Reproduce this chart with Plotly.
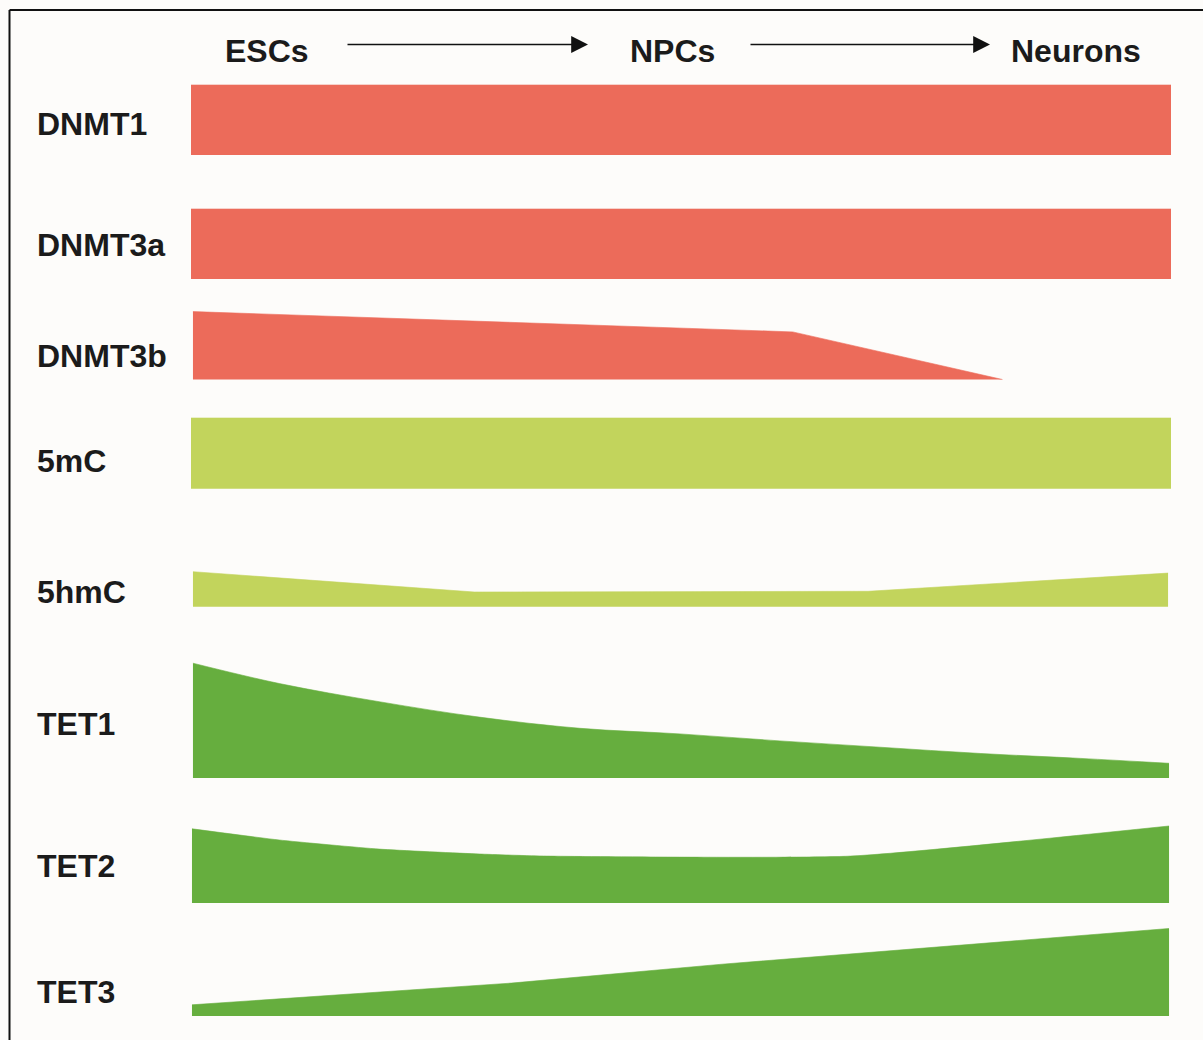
import plotly.graph_objects as go

# ---------------- data ----------------
STAGES = ["ESCs", "NPCs", "Neurons"]
ROWS = ["DNMT1", "DNMT3a", "DNMT3b", "5mC", "5hmC", "TET1", "TET2", "TET3"]

# x = position along differentiation (0 = ESCs ... 100 = Neurons)
# level = relative amount (1.0 = full band)
DNMT1_X = [0, 100]
DNMT1_LEVEL = [1.0, 1.0]

DNMT3A_X = [0, 100]
DNMT3A_LEVEL = [1.0, 1.0]

DNMT3B_X = [0.2, 61.4, 82.8]
DNMT3B_LEVEL = [0.97, 0.68, 0.0]

MC5_X = [0, 100]
MC5_LEVEL = [1.01, 1.01]

HMC5_X = [0.2, 28.9, 69.1, 99.7]
HMC5_LEVEL = [0.50, 0.21, 0.22, 0.48]

TET1_X = [0.2, 9.0, 19.2, 29.4, 39.7, 49.9, 60.1, 70.3, 80.6, 90.8, 99.8]
TET1_LEVEL = [1.64, 1.35, 1.09, 0.87, 0.71, 0.63, 0.53, 0.44, 0.35, 0.28, 0.21]

TET2_X = [0.1, 9.0, 19.2, 29.4, 36.3, 67.3, 99.8]
TET2_LEVEL = [1.06, 0.90, 0.77, 0.70, 0.67, 0.67, 1.10]

TET3_X = [0.1, 32.7, 54.2, 99.8]
TET3_LEVEL = [0.16, 0.47, 0.74, 1.25]

SERIES_X = [DNMT1_X, DNMT3A_X, DNMT3B_X, MC5_X, HMC5_X, TET1_X, TET2_X, TET3_X]
SERIES_LEVEL = [DNMT1_LEVEL, DNMT3A_LEVEL, DNMT3B_LEVEL, MC5_LEVEL,
                HMC5_LEVEL, TET1_LEVEL, TET2_LEVEL, TET3_LEVEL]

# ---------------- layout / style ----------------
W, H = 1203, 1040
X0_PX, PX_PER_UNIT = 191.0, 9.8          # where timeline 0 sits, pixels per unit
BAND_PX = 70.0                           # pixel height of level 1.0
ROW_BASE = [155, 279, 379.5, 488.7, 606.7, 778, 903, 1016]   # baseline of each band (px from top)
LABEL_Y = [124, 245, 356, 461, 592, 724, 866, 992]           # label centres (px from top)
ROW_SHAPE = ["linear", "linear", "linear", "linear", "linear", "spline", "spline", "linear"]
ROW_SMOOTH = [0, 0, 0, 0, 0, 1.0, 0.5, 0]

RED = "#EC6B5A"
LIGHT_GREEN = "#C2D45C"
GREEN = "#66AE3E"
ROW_COLORS = [RED, RED, RED, LIGHT_GREEN, LIGHT_GREEN, GREEN, GREEN, GREEN]
TEXT = "#1b1b1b"
BG = "#fdfcfa"
FONT = "Liberation Sans, Arial, sans-serif"
FSIZE = 32


def px2x(p):
    return (p - X0_PX) / PX_PER_UNIT


def px2paper_x(p):
    return p / W


def px2paper_y(p):
    return 1 - p / H


fig = go.Figure()

for name, xs, lv, base, col, shp, sm in zip(ROWS, SERIES_X, SERIES_LEVEL, ROW_BASE,
                                            ROW_COLORS, ROW_SHAPE, ROW_SMOOTH):
    tops = [base - v * BAND_PX for v in lv]
    # baseline
    fig.add_trace(go.Scatter(
        x=[xs[0], xs[-1]], y=[base, base], mode="lines",
        line=dict(width=0, color=col), showlegend=False, hoverinfo="skip",
    ))
    line_kw = dict(width=0.6, color=col, shape=shp)
    if shp == "spline":
        line_kw["smoothing"] = sm
    fig.add_trace(go.Scatter(
        x=list(xs), y=tops, mode="lines", fill="tonexty",
        fillcolor=col, line=line_kw,
        name=name, showlegend=False, hoverinfo="name",
    ))

annotations = []
for name, ly in zip(ROWS, LABEL_Y):
    annotations.append(dict(
        x=px2paper_x(34.5), y=px2paper_y(ly), xref="paper", yref="paper",
        xanchor="left", yanchor="middle", showarrow=False,
        text="<b>%s</b>" % name, font=dict(family=FONT, size=FSIZE, color=TEXT),
    ))

STAGE_CX = [266.5, 672.5, 1075.5]
for s, cx in zip(STAGES, STAGE_CX):
    annotations.append(dict(
        x=px2paper_x(cx), y=px2paper_y(50.5), xref="paper", yref="paper",
        xanchor="center", yanchor="middle", showarrow=False,
        text="<b>%s</b>" % s, font=dict(family=FONT, size=FSIZE, color=TEXT),
    ))

# arrows between stages
for tail, head in [(346, 588), (749, 990)]:
    annotations.append(dict(
        x=px2x(head), y=44.5, xref="x", yref="y",
        ax=px2x(tail), ay=44.5, axref="x", ayref="y",
        showarrow=True, arrowhead=2, arrowsize=2.4, arrowwidth=1.4,
        arrowcolor="#111111", text="",
    ))

shapes = [
    # frame (top and left edges)
    dict(type="line", xref="paper", yref="paper",
         x0=px2paper_x(9.5), x1=1.01, y0=px2paper_y(10), y1=px2paper_y(10),
         line=dict(color="#111111", width=2)),
    dict(type="line", xref="paper", yref="paper",
         x0=px2paper_x(9.5), x1=px2paper_x(9.5), y0=px2paper_y(10), y1=-0.01,
         line=dict(color="#111111", width=2)),
]

fig.update_layout(
    width=W, height=H, autosize=False,
    margin=dict(l=0, r=0, t=0, b=0, pad=0),
    paper_bgcolor=BG, plot_bgcolor=BG,
    xaxis=dict(range=[-X0_PX / PX_PER_UNIT, (W - X0_PX) / PX_PER_UNIT],
               visible=False, fixedrange=True),
    yaxis=dict(range=[H, 0], visible=False, fixedrange=True),
    annotations=annotations, shapes=shapes,
    showlegend=False,
)

fig.write_html(
    "out.html",
    config={"displayModeBar": False, "staticPlot": True},
    post_script="document.body.style.margin='0';document.body.style.overflow='hidden';",
)
